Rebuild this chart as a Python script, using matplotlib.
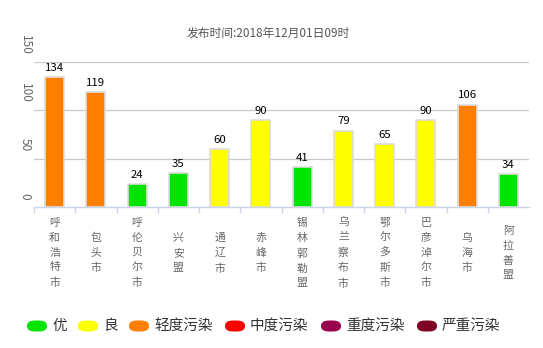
import matplotlib
matplotlib.use("Agg")
import matplotlib.pyplot as plt
from matplotlib.patches import FancyBboxPatch
import matplotlib.transforms as mtrans

plt.rcParams['font.family'] = ['Noto Sans CJK SC', 'DejaVu Sans']

title = "发布时间:2018年12月01日09时"
cities = ["呼和浩特市", "包头市", "呼伦贝尔市", "兴安盟", "通辽市", "赤峰市",
          "锡林郭勒盟", "乌兰察布市", "鄂尔多斯市", "巴彦淖尔市", "乌海市", "阿拉善盟"]
aqi = [134, 119, 24, 35, 60, 90, 41, 79, 65, 90, 106, 34]
levels = ["优", "良", "轻度污染", "中度污染", "重度污染", "严重污染"]
level_colors = ["#00e400", "#ffff00", "#ff7e00", "#ff0000", "#99004c", "#7e0023"]
level_bounds = [50, 100, 150, 200, 300, 10000]
yticks = [0, 50, 100, 150]


def color_for(v):
    for b, c in zip(level_bounds, level_colors):
        if v <= b:
            return c
    return level_colors[-1]


W, H = 543, 348
fig = plt.figure(figsize=(W / 100, H / 100), dpi=100)
L, R, T, B = 34, 529, 62, 207
ax = fig.add_axes([L / W, 1 - B / H, (R - L) / W, (B - T) / H])

x = list(range(len(cities)))
cols = [color_for(v) for v in aqi]
ax.bar(x, aqi, width=0.46, color=cols, edgecolor="#dddddd", linewidth=1.2, zorder=3)
for xi, v in zip(x, aqi):
    ax.annotate(str(v), (xi, v), xytext=(0, 3), textcoords="offset points",
                ha="center", va="bottom", fontsize=8.2, color="black", zorder=4)

ax.set_xlim(-0.5, len(cities) - 0.5)
ax.set_ylim(0, 150)
ax.set_yticks(yticks)
ax.set_yticklabels([])
ax.tick_params(axis="y", length=0)
ax.yaxis.grid(True, color="#c8c8c8", linewidth=0.9, zorder=0)
ax.set_axisbelow(True)

# rotated y labels, end of text slightly above the tick
ylab_tr = mtrans.blended_transform_factory(fig.transFigure, ax.transData) + \
    mtrans.ScaledTranslation(0, 7 / 100, fig.dpi_scale_trans)
for t in yticks:
    fig.text(25 / W, t, str(t), transform=ylab_tr, rotation=-90, ha="center", va="bottom",
             color="#666666", fontsize=8.5)

ax.set_xticks([i + 0.5 for i in x[:-1]] + [-0.5])
ax.set_xticklabels([])
ax.tick_params(axis="x", length=4, color="#ccd6eb", width=1)
for s in ["top", "right", "left"]:
    ax.spines[s].set_visible(False)
ax.spines["bottom"].set_color("#ccd6eb")
ax.spines["bottom"].set_linewidth(1)

lab_y = -(253 - B) / (B - T)
for xi, name in zip(x, cities):
    ax.text(xi, lab_y, "\n".join(name), transform=ax.get_xaxis_transform(),
            ha="center", va="center", fontsize=7.8, color="#666666", linespacing=1.6)

fig.text(268 / W, 1 - 33 / H, title, ha="center", va="center", fontsize=8.5, color="#555555")

# legend
leg_x = [27, 78, 129, 225, 321, 417]
ly = 326
for lx, lab, c in zip(leg_x, levels, level_colors):
    p = FancyBboxPatch((lx / W, 1 - (ly + 5.5) / H), 20 / W, 11 / H,
                       boxstyle="round,pad=0,rounding_size=0.015", transform=fig.transFigure,
                       facecolor=c, edgecolor="none")
    fig.patches.append(p)
    fig.text((lx + 25) / W, 1 - ly / H, lab, ha="left", va="center", fontsize=10.5, color="#333333")

fig.savefig("out.png", dpi=100)
